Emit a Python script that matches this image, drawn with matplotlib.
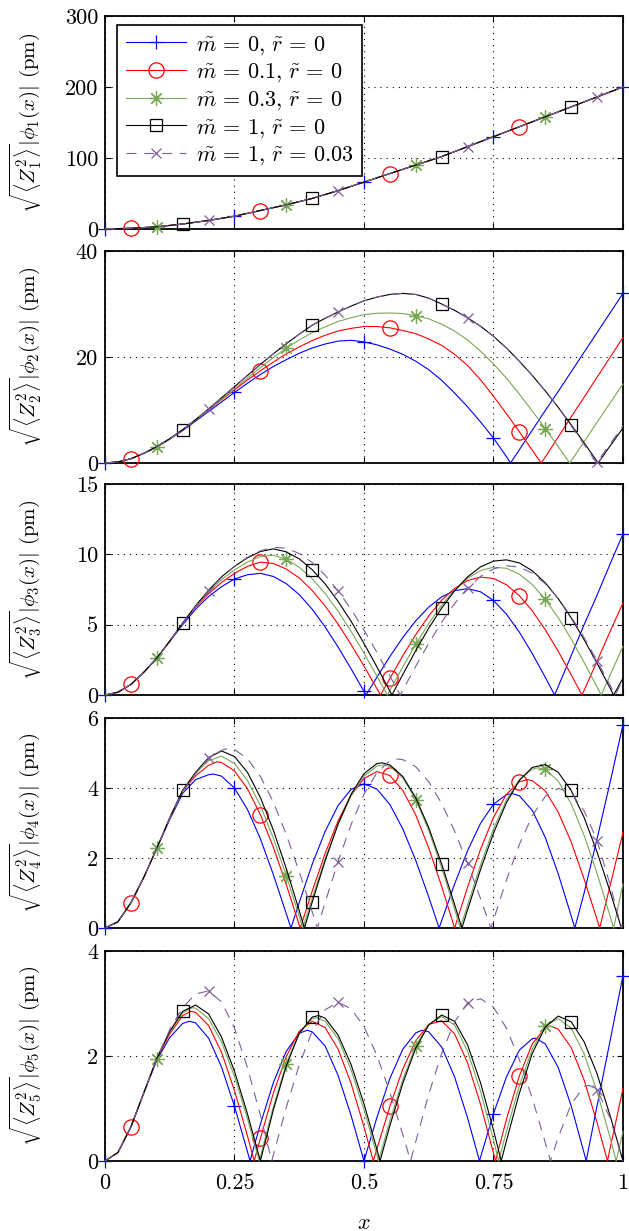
import numpy as np
import matplotlib
matplotlib.use("Agg")
import matplotlib.pyplot as plt
from matplotlib.lines import Line2D

plt.rcParams["mathtext.fontset"] = "cm"
plt.rcParams["font.family"] = ["cmr10", "DejaVu Serif"]
plt.rcParams["axes.formatter.use_mathtext"] = True
plt.rcParams["axes.unicode_minus"] = False

# sampling grids of the read-off values
x_coarse = np.linspace(0, 1, 21)   # panel 1, step 0.05
x_fine = np.linspace(0, 1, 41)     # panels 2-5, step 0.025

# ---------------------------------------------------------------------------
# mode 1 (all five cases overlap)
# ---------------------------------------------------------------------------
p1_all = [0, 1, 3, 7, 12, 18, 26, 34, 43, 54, 66, 78, 90, 102, 116, 130,
          144, 158, 172, 186, 200]

# mode 2
p2_m0 = [0, 0.2, 0.8, 1.8, 3.0, 4.5, 6.1, 7.9, 9.7, 11.5, 13.3, 15.05, 16.7,
         18.2, 19.5, 20.7, 21.7, 22.45, 23.0, 23.15, 22.85, 22.3, 21.5, 20.5,
         19.2, 17.6, 15.6, 13.2, 10.6, 7.75, 4.7, 1.2, 2.5, 6.2, 9.9, 13.5,
         17.2, 20.9, 24.6, 28.3, 32.0]
p2_m01 = [0, 0.2, 0.8, 1.8, 3.0, 4.5, 6.2, 8.1, 10.0, 11.9, 13.8, 15.65, 17.4,
          19.05, 20.6, 21.9, 23.1, 24.1, 24.9, 25.4, 25.75, 25.75, 25.5, 25.0,
          24.4, 23.4, 22.2, 20.5, 18.4, 15.7, 12.6, 9.3, 5.9, 2.4, 1.1, 4.9,
          8.7, 12.4, 16.2, 19.9, 23.7]
p2_m03 = [0, 0.2, 0.8, 1.8, 3.0, 4.5, 6.2, 8.1, 10.0, 12.0, 14.0, 16.0, 18.0,
          19.9, 21.7, 23.2, 24.6, 25.7, 26.7, 27.4, 28.0, 28.25, 28.3, 28.2,
          27.8, 27.2, 26.2, 24.9, 23.2, 21.1, 18.7, 16.0, 13.0, 9.8, 6.5, 3.1,
          0.4, 4.0, 7.7, 11.3, 14.9]
p2_m1 = [0, 0.2, 0.8, 1.85, 3.1, 4.6, 6.3, 8.2, 10.2, 12.3, 14.4, 16.5, 18.6,
         20.6, 22.5, 24.3, 26.0, 27.3, 28.5, 29.6, 30.6, 31.3, 31.8, 32.0,
         31.8, 31.1, 30.0, 28.8, 27.4, 25.8, 23.9, 21.7, 19.2, 16.5, 13.6,
         10.5, 7.2, 3.8, 0.3, 3.2, 6.6]
p2_m1r = [0, 0.2, 0.8, 1.85, 3.1, 4.6, 6.3, 8.2, 10.2, 12.3, 14.4, 16.5, 18.6,
          20.6, 22.5, 24.3, 26.0, 27.3, 28.5, 29.6, 30.6, 31.3, 31.8, 32.0,
          31.8, 31.1, 30.0, 28.8, 27.4, 25.8, 23.9, 21.7, 19.2, 16.5, 13.6,
          10.5, 7.0, 3.5, 0.15, 3.6, 7.0]
p2_zeros = [[0.783], [0.842], [0.897], [0.952], [0.949]]

# mode 3
p3_m0 = [0, 0.2, 0.75, 1.62, 2.62, 3.8, 5.0, 6.1, 7.0, 7.7, 8.25, 8.55, 8.65,
         8.43, 7.92, 7.14, 6.10, 4.84, 3.41, 1.87, 0.26, 1.27, 2.74, 4.09,
         5.28, 6.25, 6.98, 7.42, 7.56, 7.34, 6.72, 5.75, 4.47, 2.94, 1.26,
         0.6, 2.8, 5.0, 7.1, 9.3, 11.45]
p3_m01 = [0, 0.2, 0.75, 1.62, 2.62, 3.82, 5.1, 6.25, 7.2, 8.0, 8.65, 9.15,
          9.45, 9.35, 8.96, 8.32, 7.44, 6.33, 5.04, 3.60, 2.06, 0.45, 1.18,
          2.79, 4.29, 5.62, 6.74, 7.58, 8.14, 8.38, 8.29, 7.84, 7.06, 5.98,
          4.64, 3.11, 1.44, 0.33, 2.4, 4.5, 6.54]
p3_m03 = [0, 0.2, 0.75, 1.62, 2.63, 3.83, 5.1, 6.3, 7.35, 8.2, 8.9, 9.45,
          9.85, 9.94, 9.65, 9.09, 8.27, 7.22, 5.96, 4.53, 2.98, 1.34, 0.33,
          2.0, 3.6, 5.08, 6.39, 7.47, 8.30, 8.85, 9.09, 9.01, 8.59, 7.85,
          6.80, 5.50, 3.99, 2.32, 0.57, 1.4, 3.46]
p3_m1 = [0, 0.2, 0.75, 1.62, 2.63, 3.84, 5.12, 6.35, 7.45, 8.4, 9.15, 9.75,
         10.2, 10.39, 10.18, 9.68, 8.91, 7.90, 6.66, 5.25, 3.67, 2.00, 0.28,
         1.46, 3.16, 4.75, 6.18, 7.41, 8.40, 9.11, 9.52, 9.61, 9.39, 8.83,
         7.98, 6.85, 5.49, 3.94, 2.26, 0.50, 1.2]
p3_m1r = [0, 0.2, 0.75, 1.62, 2.63, 3.84, 5.1, 6.3, 7.4, 8.35, 9.15, 9.8,
          10.25, 10.5, 10.44, 10.06, 9.42, 8.52, 7.41, 6.10, 4.62, 3.03, 1.36,
          0.34, 2.05, 3.68, 5.18, 6.50, 7.60, 8.43, 8.97, 9.19, 9.09, 8.66,
          7.91, 6.87, 5.57, 4.08, 2.44, 0.71, 1.1]
p3_zeros = [[0.504, 0.868], [0.532, 0.921], [0.545, 0.958], [0.554, 0.982],
            [0.57, 0.985]]

# mode 4
p4_m0 = [0, 0.18, 0.72, 1.45, 2.27, 3.1, 3.85, 4.24, 4.38, 4.34, 4.00, 3.39,
         2.55, 1.53, 0.41, 0.73, 1.82, 2.76, 3.50, 3.96, 4.12, 3.97, 3.53,
         2.83, 1.93, 0.89, 0.21, 1.26, 2.21, 2.99, 3.54, 3.81, 3.78, 3.36,
         2.59, 1.55, 0.35, 1.0, 2.55, 4.15, 5.81]
p4_m01 = [0, 0.18, 0.72, 1.45, 2.28, 3.13, 3.92, 4.35, 4.65, 4.73, 4.49, 3.98,
          3.24, 2.31, 1.24, 0.09, 1.05, 2.13, 3.06, 3.79, 4.27, 4.47, 4.36,
          3.93, 3.23, 2.29, 1.19, 0.0, 1.17, 2.25, 3.16, 3.82, 4.18, 4.21,
          3.92, 3.31, 2.46, 1.40, 0.24, 1.2, 2.73]
p4_m03 = [0, 0.18, 0.72, 1.45, 2.28, 3.14, 3.93, 4.42, 4.78, 4.91, 4.70, 4.22,
          3.50, 2.57, 1.50, 0.34, 0.85, 1.97, 2.96, 3.77, 4.34, 4.63, 4.62,
          4.29, 3.67, 2.79, 1.72, 0.54, 0.66, 1.80, 2.83, 3.66, 4.24, 4.54,
          4.53, 4.20, 3.55, 2.65, 1.56, 0.35, 1.26]
p4_m1 = [0, 0.18, 0.72, 1.45, 2.28, 3.15, 3.94, 4.45, 4.87, 5.06, 4.90, 4.45,
         3.73, 2.80, 1.70, 0.50, 0.74, 1.92, 2.97, 3.82, 4.41, 4.70, 4.66,
         4.33, 3.72, 2.87, 1.83, 0.67, 0.52, 1.67, 2.71, 3.58, 4.22, 4.59,
         4.67, 4.45, 3.93, 3.16, 2.17, 1.05, 0.15]
p4_m1r = [0, 0.18, 0.72, 1.45, 2.28, 3.14, 3.92, 4.42, 4.85, 5.08, 5.10, 4.84,
          4.33, 3.60, 2.67, 1.61, 0.47, 0.73, 1.90, 2.95, 3.82, 4.44, 4.78,
          4.81, 4.61, 4.18, 3.56, 2.77, 1.85, 0.84, 0.23, 1.37, 2.39, 3.21,
          3.76, 3.99, 3.87, 3.35, 2.50, 1.25, 0.1]
p4_zeros = [[0.359, 0.645, 0.907], [0.377, 0.955], [0.382, 0.686, 0.982],
            [0.385, 0.689, 0.997], [0.41, 0.745, 0.997]]
p4_peaks = [[(0.209, 4.40), (0.786, 3.84)],
            [(0.216, 4.75), (0.815, 4.24)],
            [(0.537, 4.66), (0.837, 4.58)],
            [(0.535, 4.72)],
            [(0.238, 5.13), (0.565, 4.83)]]

# mode 5
p5_m0 = [0, 0.16, 0.64, 1.29, 1.92, 2.35, 2.62, 2.63, 2.34, 1.79, 1.04, 0.18,
         0.70, 1.49, 2.09, 2.43, 2.46, 2.19, 1.63, 0.87, 0.0, 0.83, 1.57,
         2.13, 2.44, 2.46, 2.17, 1.60, 0.82, 0.07, 0.90, 1.60, 2.11, 2.33,
         2.23, 1.78, 1.05, 0.15, 1.05, 2.28, 3.53]
p5_m01 = [0, 0.16, 0.65, 1.3, 1.94, 2.42, 2.77, 2.83, 2.58, 2.07, 1.34, 0.48,
          0.43, 1.29, 1.99, 2.47, 2.66, 2.54, 2.13, 1.48, 0.65, 0.23, 1.04,
          1.75, 2.29, 2.60, 2.67, 2.42, 1.87, 1.08, 0.15, 0.79, 1.62, 2.23,
          2.54, 2.51, 2.16, 1.54, 0.73, 0.23, 1.38]
p5_m03 = [0, 0.16, 0.65, 1.3, 1.95, 2.45, 2.82, 2.91, 2.71, 2.27, 1.61, 0.81,
          0.08, 1.03, 1.85, 2.43, 2.71, 2.66, 2.33, 1.74, 0.98, 0.11, 0.76,
          1.55, 2.19, 2.60, 2.75, 2.59, 2.09, 1.33, 0.40, 0.56, 1.43, 2.13,
          2.57, 2.71, 2.53, 2.04, 1.32, 0.45, 0.56]
p5_m1 = [0, 0.16, 0.65, 1.3, 1.95, 2.47, 2.85, 2.97, 2.80, 2.36, 1.71, 0.90,
         0.0, 0.97, 1.81, 2.43, 2.74, 2.72, 2.40, 1.84, 1.09, 0.22, 0.67,
         1.48, 2.15, 2.59, 2.78, 2.66, 2.21, 1.49, 0.59, 0.38, 1.29, 2.05,
         2.55, 2.76, 2.65, 2.27, 1.66, 0.87, 0.0]
p5_m1r = [0, 0.16, 0.65, 1.3, 1.95, 2.5, 2.92, 3.18, 3.24, 3.03, 2.53, 1.78,
          0.87, 0.11, 1.02, 1.83, 2.47, 2.88, 3.02, 2.90, 2.56, 2.01, 1.31,
          0.50, 0.37, 1.27, 2.05, 2.65, 3.01, 3.09, 2.93, 2.53, 1.93, 1.19,
          0.35, 0.45, 1.08, 1.42, 1.36, 0.82, 0.0]
p5_zeros = [[0.28, 0.723, 0.929], [0.288, 0.518, 0.754, 0.97],
            [0.298, 0.528, 0.76, 0.987], [0.531, 0.765], [0.322, 0.59, 0.86]]
p5_peaks = [[(0.163, 2.66), (0.39, 2.49), (0.612, 2.49), (0.831, 2.34)],
            [(0.166, 2.85), (0.86, 2.57)],
            [(0.169, 2.92), (0.408, 2.73)],
            [(0.412, 2.77)],
            [(0.935, 1.44)]]

no_peaks = [[], [], [], [], []]

labels = [r"$\tilde{m}\,=\,0,\,\tilde{r}\,=\,0$",
          r"$\tilde{m}\,=\,0.1,\,\tilde{r}\,=\,0$",
          r"$\tilde{m}\,=\,0.3,\,\tilde{r}\,=\,0$",
          r"$\tilde{m}\,=\,1,\,\tilde{r}\,=\,0$",
          r"$\tilde{m}\,=\,1,\,\tilde{r}\,=\,0.03$"]
mark_start = [0.0, 0.05, 0.10, 0.15, 0.20]

styles = [
    dict(color="#0000ff", ls="-", marker="+", ms=10, mew=0.9),
    dict(color="#ff0000", ls="-", marker="o", ms=11, mfc="none", mew=0.9),
    dict(color="#78a855", ls="-", marker=(8, 2, 0), ms=10.5, mew=0.9),
    dict(color="#000000", ls="-", marker="s", ms=8.5, mfc="none", mew=0.9),
    dict(color="#7e5d99", ls=(0, (9, 7)), marker="x", ms=7.5, mew=0.9),
]

panels = [
    (x_coarse, [p1_all] * 5, [[]] * 5, no_peaks, 300, [0, 100, 200, 300]),
    (x_fine, [p2_m0, p2_m01, p2_m03, p2_m1, p2_m1r], p2_zeros, no_peaks, 40,
     [0, 20, 40]),
    (x_fine, [p3_m0, p3_m01, p3_m03, p3_m1, p3_m1r], p3_zeros, no_peaks, 15,
     [0, 5, 10, 15]),
    (x_fine, [p4_m0, p4_m01, p4_m03, p4_m1, p4_m1r], p4_zeros, p4_peaks, 6,
     [0, 2, 4, 6]),
    (x_fine, [p5_m0, p5_m01, p5_m03, p5_m1, p5_m1r], p5_zeros, p5_peaks, 4,
     [0, 2, 4]),
]

rects = [(0.1669, 0.8140, 0.8235, 0.1730),
         (0.1669, 0.6239, 0.8235, 0.1722),
         (0.1669, 0.4354, 0.8235, 0.1714),
         (0.1669, 0.2461, 0.8235, 0.1706),
         (0.1669, 0.0569, 0.8235, 0.1706)]


def merge_points(x, y, zeros, peaks):
    px = [p[0] for p in peaks]
    py = [p[1] for p in peaks]
    xs = np.concatenate([x, np.asarray(zeros, float), np.asarray(px, float)])
    ys = np.concatenate([np.asarray(y, float), np.zeros(len(zeros)),
                         np.asarray(py, float)])
    order = np.argsort(xs, kind="stable")
    return xs[order], ys[order]


fig = plt.figure(figsize=(6.29, 12.31), dpi=100)

for n, (rect, (grid, series, zeros, peaks, ytop, yticks)) in enumerate(zip(rects, panels), start=1):
    ax = fig.add_axes(rect)
    ax.set_axisbelow(True)
    for k in range(5):
        xs, ys = merge_points(grid, series[k], zeros[k], peaks[k])
        marks = mark_start[k] + 0.25 * np.arange(5)
        idx = [i for i, v in enumerate(xs) if np.isclose(v, marks).any()]
        ax.plot(xs, ys, lw=0.8, markevery=idx, clip_on=False, zorder=3 + k,
                **styles[k])

    ax.set_xlim(0, 1)
    ax.set_ylim(0, ytop)
    ax.set_xticks([0, 0.25, 0.5, 0.75, 1])
    ax.set_yticks(yticks)
    ax.set_yticklabels([str(t) for t in yticks])
    if n == 5:
        ax.set_xticklabels(["0", "0.25", "0.5", "0.75", "1"])
        ax.set_xlabel("$x$", fontsize=16)
        ax.xaxis.set_label_coords(0.5, -0.25)
    else:
        ax.set_xticklabels([])
    ax.grid(True, color="black", linestyle=(0, (1, 4.5)), linewidth=0.8)
    ax.tick_params(direction="in", length=4, width=0.8, top=True, right=True,
                   labelsize=16)
    ax.tick_params(axis="x", pad=9)
    ax.tick_params(axis="y", pad=5)
    for sp in ax.spines.values():
        sp.set_linewidth(1.3)
    ax.set_ylabel(r"$\sqrt{\langle Z_%d^2\rangle}|\phi_%d(x)|$ (pm)" % (n, n),
                  fontsize=15)
    ax.yaxis.set_label_coords(-0.12, 0.5)

    if n == 1:
        handles = [Line2D([], [], lw=0.8, **st) for st in styles]
        leg = ax.legend(handles, labels, loc="upper left",
                        bbox_to_anchor=(0.023, 0.958), borderaxespad=0,
                        fontsize=16, fancybox=False, edgecolor="black",
                        framealpha=1, handlelength=2.7, handletextpad=0.45,
                        labelspacing=0.22, borderpad=0.4)
        leg.get_frame().set_linewidth(1.2)
        leg.set_zorder(10)

fig.savefig("out.png", dpi=100)
